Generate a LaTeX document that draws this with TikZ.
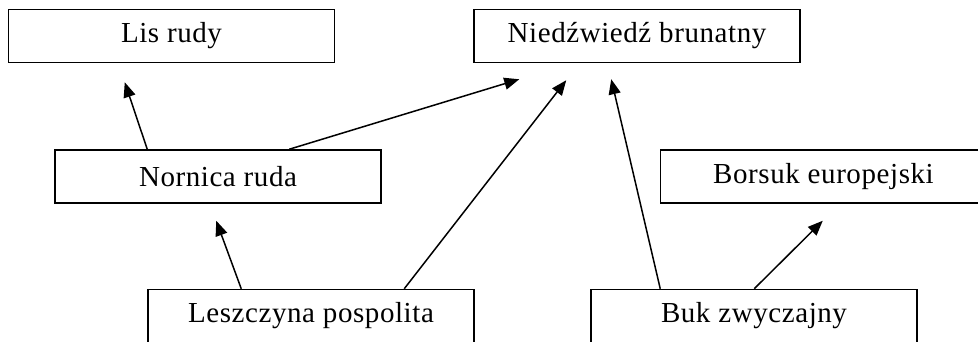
\documentclass[tikz,border=0pt]{standalone}
\usepackage{fontspec}
\setmainfont[LetterSpace=2]{Liberation Serif}
\usetikzlibrary{arrows.meta,calc}
\tikzset{
  box/.style={draw, line width=1.5pt, rectangle, minimum width=326pt, minimum height=53pt, inner sep=0pt, font=\fontsize{29}{34}\selectfont},
  link/.style={line width=1.5pt, -{Triangle[length=15pt,width=12pt]}}
}
\begin{document}
\begin{tikzpicture}[x=1pt,y=-1pt]
\useasboundingbox (0,0) rectangle (978,342);
\clip (0,0) rectangle (978,342);
\node[box] (lis) at (171.5,36) {Lis rudy};
\node[box] (niedz) at (637,36) {Niedźwiedź brunatny};
\node[box] (nornica) at (218,176.5) {Nornica ruda};
\node[box] (borsuk) at (823.5,176.5) {Borsuk europejski};
\node[box] (lesz) at (311,316) {Leszczyna pospolita};
\node[box] (buk) at (754,316) {Buk zwyczajny};
\draw[link] ($(nornica.north west)+(93,0)$) -- ($(lis.south west)+(117,19)$);
\draw[link] ($(nornica.north west)+(235,0)$) -- ($(niedz.south west)+(46,16)$);
\draw[link] ($(lesz.north west)+(94,0)$) -- ($(nornica.south west)+(162,17)$);
\draw[link] ($(lesz.north west)+(257,0)$) -- ($(niedz.south west)+(93,17)$);
\draw[link] ($(buk.north west)+(70,0)$) -- ($(niedz.south west)+(138,16)$);
\draw[link] ($(buk.north west)+(164,0)$) -- ($(borsuk.south west)+(163,17)$);
\end{tikzpicture}
\end{document}
